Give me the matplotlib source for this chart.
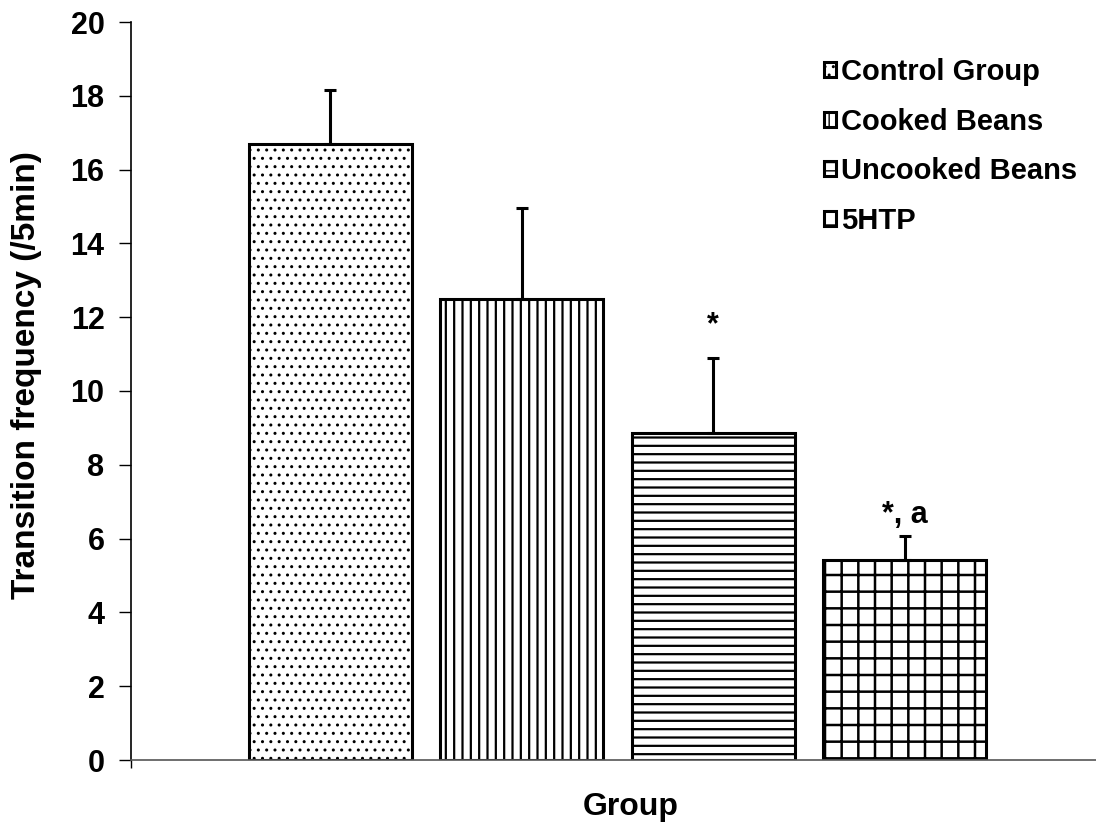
import matplotlib
matplotlib.use("Agg")
import matplotlib.pyplot as plt

# Mean transition frequency per group with upper SEM bars
groups = ["Control Group", "Cooked Beans", "Uncooked Beans", "5HTP"]
means = [16.7, 12.5, 8.87, 5.43]
errors = [1.45, 2.47, 2.03, 0.64]
hatches = ["..", "||", "--", "+"]
hatch_widths = [1.0, 1.6, 1.6, 1.8]
annotations = ["", "", "*", "*, a"]
annotation_y = [None, None, 11.57, 6.42]
yticks = [0, 2, 4, 6, 8, 10, 12, 14, 16, 18, 20]

plt.rcParams["font.family"] = ["Liberation Sans", "DejaVu Sans"]
plt.rcParams["font.weight"] = "bold"
plt.rcParams["hatch.color"] = "black"

W, H = 1096, 827
fig = plt.figure(figsize=(W / 100, H / 100), dpi=100)
ax = fig.add_axes([131 / W, 67 / H, (1104 - 131) / W, (760 - 22) / H])

x = list(range(len(groups)))
bars = []
for xi, m, h, hw, g in zip(x, means, hatches, hatch_widths, groups):
    with plt.rc_context({"hatch.linewidth": hw}):
        b = ax.bar(xi, m, width=0.85, color="white", edgecolor="black",
                   linewidth=2.2, hatch=h, label=g, zorder=2)[0]
    if hasattr(b, "set_hatch_linewidth"):
        b.set_hatch_linewidth(hw)
    bars.append(b)

ax.errorbar(x, means, yerr=[[0] * len(means), errors], fmt="none",
            ecolor="black", elinewidth=2.2, capsize=4.3, capthick=2.2, zorder=3)

for xi, t, ty in zip(x, annotations, annotation_y):
    if t:
        ax.text(xi, ty, t, ha="center", va="baseline",
                fontsize=22, fontweight="bold")

ax.set_xlim(-1.04, 4.04)
ax.set_ylim(0, 20)
ax.set_yticks(yticks)
ax.set_xticks([-1.04, 4.04])
ax.set_xticklabels(["", ""])
ax.tick_params(axis="y", direction="out", length=9, width=1, pad=10,
               labelsize=22)
ax.tick_params(axis="x", direction="out", length=6, width=1)
for lbl in ax.get_yticklabels():
    lbl.set_fontweight("bold")

for side in ("top", "right"):
    ax.spines[side].set_visible(False)
ax.spines["left"].set_linewidth(1.2)
ax.spines["bottom"].set_linewidth(1.2)
ax.spines["bottom"].set_color("#555555")

fig.text(27 / W, 1 - 375 / H, "Transition frequency (/5min)", rotation=90,
         ha="center", va="center", fontsize=24, fontweight="bold")
fig.text(631 / W, 1 - 807 / H, "Group", ha="center", va="center",
         fontsize=23, fontweight="bold")

leg = fig.legend(handles=bars, labels=groups, loc="upper left",
                 bbox_to_anchor=(824 / W, 1 - 58 / H), frameon=False,
                 fontsize=21, handlelength=0.42, handleheight=0.42,
                 handletextpad=0.15, labelspacing=0.74, borderaxespad=0,
                 borderpad=0)
for txt in leg.get_texts():
    txt.set_fontweight("bold")

fig.savefig("out.png", dpi=100)
